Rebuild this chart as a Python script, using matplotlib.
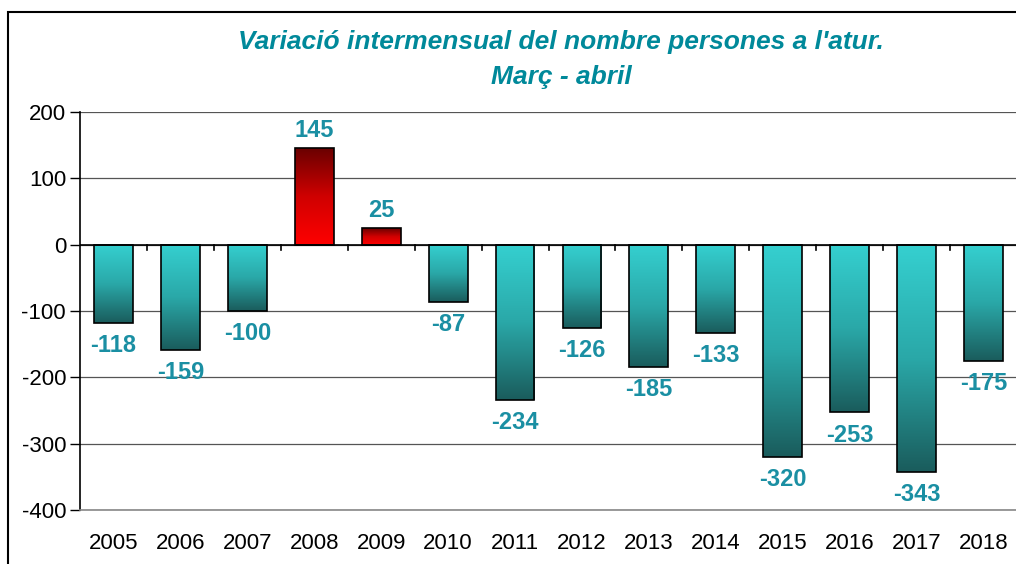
import matplotlib
matplotlib.use("Agg")
import matplotlib.pyplot as plt
import numpy as np
from matplotlib.colors import LinearSegmentedColormap
from matplotlib.patches import Rectangle

years = ["2005", "2006", "2007", "2008", "2009", "2010", "2011",
         "2012", "2013", "2014", "2015", "2016", "2017", "2018"]
values = [-118, -159, -100, 145, 25, -87, -234,
          -126, -185, -133, -320, -253, -343, -175]
yticks = [-400, -300, -200, -100, 0, 100, 200]

plt.rcParams["font.family"] = ["Liberation Sans", "DejaVu Sans"]

LABEL = "#1A8FA3"
neg_cmap = LinearSegmentedColormap.from_list("neg", ["#35D0D0", "#2AA8A8", "#1A5C5C"])
pos_cmap = LinearSegmentedColormap.from_list("pos", ["#FF0000", "#D00000", "#6A0000"])

fig = plt.figure(figsize=(10.16, 5.64), dpi=100)
ax = fig.add_axes([80 / 1016, 1 - 510 / 564, 937 / 1016, 398 / 564])

x = np.arange(len(years))
width = 0.58
grad = np.linspace(0, 1, 256).reshape(-1, 1)
for xi, v in zip(x, values):
    cmap = pos_cmap if v > 0 else neg_cmap
    # value 0 is the light end for negatives, the bright red end for positives
    img = grad if v > 0 else grad[::-1]
    lo, hi = (0, v) if v > 0 else (v, 0)
    ax.imshow(img, cmap=cmap, aspect="auto", origin="lower",
              extent=(xi - width / 2, xi + width / 2, lo, hi), zorder=2)
    ax.add_patch(Rectangle((xi - width / 2, lo), width, hi - lo, fill=False,
                           edgecolor="black", linewidth=1.2, zorder=3))
    if v > 0:
        ax.text(xi, v + 27, f"{v}", ha="center", va="center", color=LABEL,
                fontsize=17, fontweight="bold")
    else:
        ax.text(xi, v - 34, f"{v}", ha="center", va="center", color=LABEL,
                fontsize=17, fontweight="bold")

ax.set_xlim(-0.5, len(years) - 0.5)
ax.set_ylim(-400, 200)
ax.set_yticks(yticks)
ax.set_yticklabels([str(t) for t in yticks], fontsize=16)
ax.yaxis.grid(True, color="#555555", linewidth=0.9)
ax.set_axisbelow(True)
ax.tick_params(axis="y", direction="out", length=7, width=1, pad=3)

# category labels below the plot, tick marks on the zero line
ax.set_xticks([])
for xi, yr in zip(x, years):
    ax.text(xi, -450, yr, ha="center", va="center", fontsize=16)
ax.axhline(0, color="black", linewidth=1.2, zorder=4)
for b in np.arange(-0.5, len(years) + 0.5, 1.0)[1:-1]:
    ax.plot([b, b], [0, -8], color="black", linewidth=1.2, zorder=4, clip_on=False)

for s in ["top", "right"]:
    ax.spines[s].set_visible(False)
ax.spines["left"].set_color("black")
ax.spines["left"].set_linewidth(1.2)
ax.spines["bottom"].set_color("#888888")
ax.spines["bottom"].set_linewidth(1.2)

fig.text(561 / 1016, 1 - 42 / 564, "Variació intermensual del nombre persones a l'atur.",
         ha="center", va="center", color="#00899A", fontsize=19,
         fontweight="bold", style="italic")
fig.text(561 / 1016, 1 - 77 / 564, "Març - abril", ha="center", va="center",
         color="#00899A", fontsize=19, fontweight="bold", style="italic")

# outer chart frame (cropped at right and bottom)
fig.add_artist(Rectangle((8 / 1016, -0.05), 1.1, 1 - 12 / 564 + 0.05,
                         transform=fig.transFigure, fill=False,
                         edgecolor="black", linewidth=1.5))

fig.savefig("out.png", dpi=100)
